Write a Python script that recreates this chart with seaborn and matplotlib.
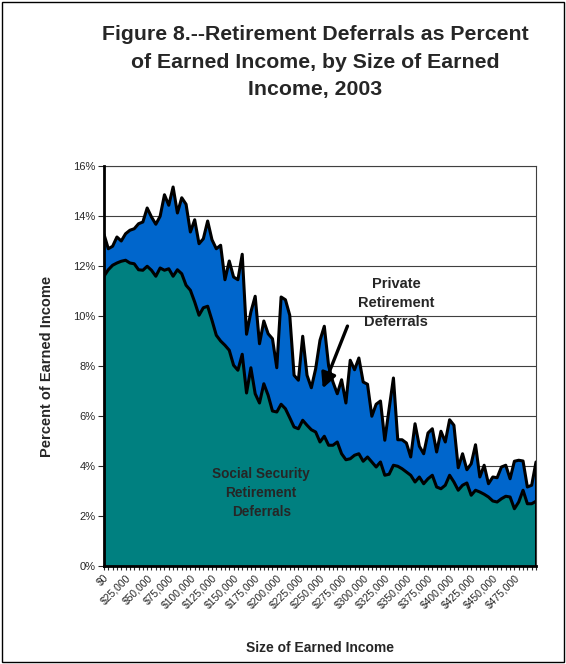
import matplotlib
matplotlib.use("Agg")
import matplotlib.pyplot as plt
import matplotlib.ticker as mticker
from matplotlib.patches import Rectangle
import seaborn as sns
import numpy as np
import pandas as pd

# income categories, $0 to $500,000 in $5,000 steps
income = list(range(0, 505000, 5000))

# Social Security retirement deferrals, percent of earned income
social_security = [
    11.59, 11.85, 12.03, 12.12, 12.19, 12.23, 12.12, 12.09, 11.85, 11.83,
    11.99, 11.83, 11.59, 11.92, 11.83, 11.89, 11.59, 11.85, 11.69, 11.23,
    11.03, 10.56, 10.03, 10.33, 10.39, 9.83, 9.23, 9.00, 8.83, 8.63,
    8.03, 7.83, 8.47, 6.92, 7.93, 6.89, 6.52, 7.29, 6.83, 6.20,
    6.16, 6.47, 6.29, 5.93, 5.56, 5.49, 5.83, 5.63, 5.45, 5.36,
    4.96, 5.19, 4.83, 4.83, 4.96, 4.49, 4.25, 4.29, 4.43, 4.49,
    4.19, 4.36, 4.16, 3.96, 4.16, 3.63, 3.67, 4.03, 3.99, 3.89,
    3.76, 3.63, 3.36, 3.56, 3.29, 3.49, 3.63, 3.16, 3.09, 3.23,
    3.63, 3.36, 3.03, 3.23, 3.32, 2.83, 3.03, 2.96, 2.87, 2.76,
    2.60, 2.56, 2.69, 2.79, 2.76, 2.29, 2.56, 3.03, 2.49, 2.49,
    2.59,
]

# Private retirement deferrals, percent of earned income
private = [
    1.68, 0.84, 0.76, 1.04, 0.81, 1.06, 1.31, 1.40, 1.84, 1.93,
    2.33, 2.13, 2.08, 2.07, 3.02, 2.54, 3.57, 2.27, 3.04, 3.24,
    2.33, 3.29, 2.86, 2.76, 3.41, 3.22, 3.46, 3.83, 2.62, 3.57,
    3.53, 3.62, 4.00, 2.35, 2.23, 3.90, 2.37, 2.51, 2.46, 2.89,
    1.77, 4.29, 4.36, 4.10, 2.07, 1.94, 3.36, 2.00, 1.68, 2.53,
    4.07, 4.40, 3.17, 2.53, 1.93, 2.96, 2.27, 3.94, 3.42, 3.83,
    3.17, 2.91, 1.83, 2.51, 2.44, 1.40, 2.62, 3.49, 1.06, 1.16,
    1.16, 0.73, 2.33, 1.23, 1.20, 1.83, 1.86, 1.40, 2.30, 1.73,
    2.22, 2.27, 0.90, 1.26, 0.53, 1.26, 1.82, 0.60, 1.16, 0.53,
    0.96, 0.97, 1.27, 1.24, 0.73, 1.90, 1.67, 1.17, 0.67, 0.74,
    1.57,
]

df = pd.DataFrame({"income": income, "social": social_security, "private": private})
df["total"] = df["social"] + df["private"]

sns.set_style("white")
plt.rcParams["font.family"] = ["Liberation Sans", "DejaVu Sans"]

fig = plt.figure(figsize=(5.66, 6.64), dpi=100)
ax = fig.add_axes([0.1837, 0.1476, 0.7633, 0.6024])

teal = "#008080"
blue = "#0066CC"

ax.fill_between(df["income"], 0, df["social"], color=teal, lw=0, zorder=2)
ax.fill_between(df["income"], df["social"], df["total"], color=blue, lw=0, zorder=2)
sns.lineplot(data=df, x="income", y="social", color="black", lw=2.2, ax=ax, zorder=3)
sns.lineplot(data=df, x="income", y="total", color="black", lw=2.2, ax=ax, zorder=3)
ax.plot([income[-1], income[-1]], [0, df["total"].iloc[-1]], color="black", lw=2.2, zorder=3)

ax.set_xlim(0, 500000)
ax.set_ylim(0, 16)

# gridlines
ax.yaxis.set_major_locator(mticker.MultipleLocator(2))
ax.yaxis.set_major_formatter(mticker.FuncFormatter(lambda v, p: f"{v:.0f}%"))
ax.grid(axis="y", color="#404040", lw=0.8, zorder=1)
ax.set_axisbelow(True)

xt = list(range(0, 500000, 25000))
ax.set_xticks(xt)
ax.set_xticklabels(["$0"] + [f"${v:,}" for v in xt[1:]], rotation=45, ha="right",
                   rotation_mode="anchor", fontsize=7.5)
ax.xaxis.set_minor_locator(mticker.MultipleLocator(5000))
ax.tick_params(axis="x", which="both", direction="out", length=3, width=0.8, bottom=True, pad=2)
ax.tick_params(axis="y", direction="out", length=4, width=0.8, left=True, labelsize=8, pad=2)

for s in ["left", "bottom"]:
    ax.spines[s].set_color("black")
    ax.spines[s].set_linewidth(2.0)
    ax.spines[s].set_zorder(4)
ax.spines["right"].set_color("#404040")
ax.spines["right"].set_linewidth(0.8)
ax.spines["top"].set_color("#404040")
ax.spines["top"].set_linewidth(0.8)

ax.set_xlabel("Size of Earned Income", fontsize=10, fontweight="bold", labelpad=22)
ax.set_ylabel("Percent of Earned Income", fontsize=10.5, fontweight="bold", labelpad=14)

ax.text(338000, 10.52, "Private\nRetirement\nDeferrals", ha="center", va="center",
        fontsize=10.5, fontweight="bold", linespacing=1.47, zorder=5)
ax.text(182000, 2.92, "Social Security\nRetirement\nDeferrals", ha="center", va="center",
        fontsize=9.8, fontweight="bold", linespacing=1.45, zorder=5)
ax.annotate("", xy=(252000, 7.0), xytext=(283000, 9.7),
            arrowprops=dict(arrowstyle="-|>,head_length=0.9,head_width=0.45",
                            color="black", lw=2.4), zorder=5)

fig.text(0.557, 0.9066, "Figure 8.--Retirement Deferrals as Percent\nof Earned Income, by Size of Earned\nIncome, 2003",
         ha="center", va="center", fontsize=15.3, fontweight="bold", linespacing=1.56)

fig.patches.append(Rectangle((0.004, 0.003), 0.992, 0.994, transform=fig.transFigure,
                             fill=False, edgecolor="black", lw=1.0))

fig.savefig("out.png", dpi=100)
